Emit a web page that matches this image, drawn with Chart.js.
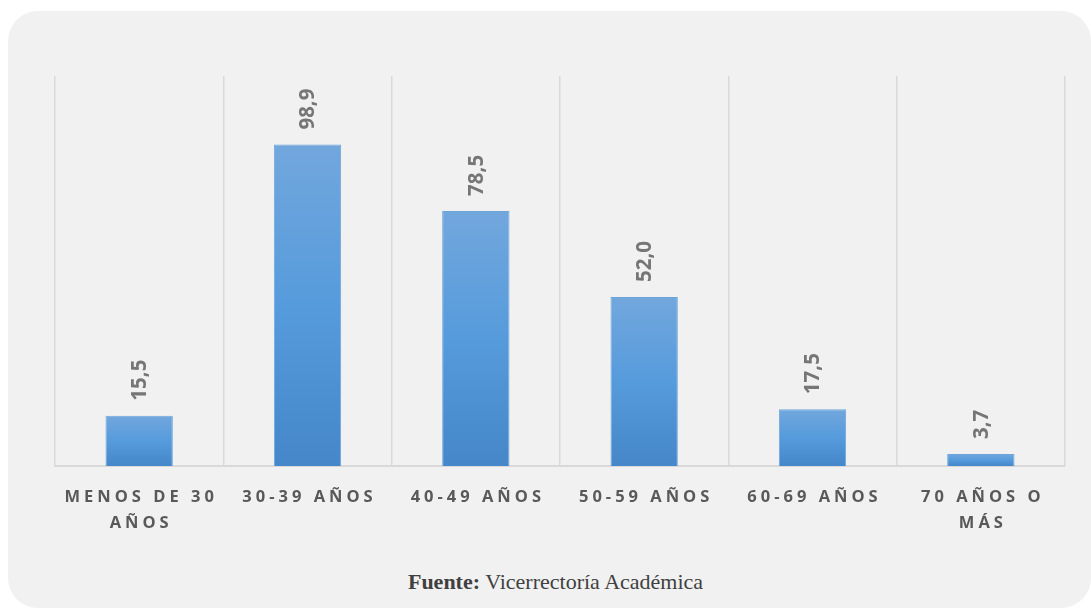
<!DOCTYPE html>
<html>
<head>
<meta charset="utf-8">
<script src="https://cdn.jsdelivr.net/npm/chart.js@4"></script>
<style>
  html, body { margin: 0; padding: 0; background: #ffffff; }
  body { width: 1091px; height: 610px; position: relative; overflow: hidden; }
  .card {
    position: absolute; left: 8px; top: 11px; width: 1083px; height: 597px;
    background: #f1f1f1; border-radius: 30px;
  }
  .chart-box { position: absolute; left: 0; top: 0; width: 1091px; height: 560px; }
  .source {
    position: absolute; left: 0; width: 1111px; top: 569px; text-align: center;
    font-family: "Liberation Serif", serif; font-size: 22px; color: #404040;
  }
</style>
</head>
<body>
<div class="card"></div>
<div class="chart-box"><canvas id="chart"></canvas></div>
<div class="source"><b>Fuente:</b> Vicerrectoría Académica</div>
<script>
// data
const categories = [
  ['MENOS DE 30', 'AÑOS'],
  ['30-39 AÑOS'],
  ['40-49 AÑOS'],
  ['50-59 AÑOS'],
  ['60-69 AÑOS'],
  ['70 AÑOS O', 'MÁS']
];
const values = [15.5, 98.9, 78.5, 52.0, 17.5, 3.7];
const valueLabels = ['15,5', '98,9', '78,5', '52,0', '17,5', '3,7'];

// gradient fill per bar (options are not shared because backgroundColor is scriptable)
const barGradient = {
  id: 'barGradient',
  beforeDatasetsDraw(chart) {
    const ctx = chart.ctx;
    chart.getDatasetMeta(0).data.forEach(function (bar) {
      const g = ctx.createLinearGradient(0, bar.y, 0, bar.base);
      g.addColorStop(0, '#72a7dd');
      g.addColorStop(0.5, '#569bdc');
      g.addColorStop(1, '#4587c9');
      bar.options.backgroundColor = g;
    });
  }
};

// rotated value labels + spaced category labels
const labelsPlugin = {
  id: 'labelsPlugin',
  afterDatasetsDraw(chart) {
    const ctx = chart.ctx;
    const meta = chart.getDatasetMeta(0);

    ctx.save();
    ctx.fillStyle = '#767676';
    ctx.font = 'bold 20.5px "Open Sans", sans-serif';
    ctx.textAlign = 'left';
    ctx.textBaseline = 'middle';
    meta.data.forEach(function (bar, i) {
      ctx.save();
      ctx.translate(bar.x + 1, bar.y - 15);
      ctx.rotate(-Math.PI / 2);
      ctx.fillText(valueLabels[i], 0, 0);
      ctx.restore();
    });
    ctx.restore();

    const xScale = chart.scales.x;
    const baseY = chart.chartArea.bottom;
    ctx.save();
    ctx.fillStyle = '#595959';
    ctx.font = 'bold 16.5px "Open Sans", sans-serif';
    ctx.letterSpacing = '4px';
    ctx.textAlign = 'center';
    ctx.textBaseline = 'middle';
    categories.forEach(function (lines, i) {
      const x = xScale.getPixelForTick(i) + 2;
      lines.forEach(function (line, j) {
        ctx.fillText(line, x, baseY + 31 + j * 26);
      });
    });
    ctx.restore();
  }
};

new Chart(document.getElementById('chart'), {
  type: 'bar',
  data: {
    labels: categories.map(c => c.join(' ')),
    datasets: [{
      data: values,
      backgroundColor: () => '#569bdc',
      borderColor: '#6ea6dc',
      borderWidth: 1,
      categoryPercentage: 0.4,
      barPercentage: 1
    }]
  },
  options: {
    responsive: true,
    maintainAspectRatio: false,
    animation: false,
    layout: { padding: { left: 55, right: 26, top: 76, bottom: 94 } },
    plugins: { legend: { display: false }, tooltip: { enabled: false } },
    scales: {
      x: {
        offset: true,
        grid: { offset: true, color: '#d9d9d9', lineWidth: 1.5, drawTicks: false },
        border: { color: '#d9d9d9', width: 2 },
        ticks: { display: false }
      },
      y: {
        display: false,
        min: 0,
        max: 120
      }
    }
  },
  plugins: [barGradient, labelsPlugin]
});
</script>
</body>
</html>
